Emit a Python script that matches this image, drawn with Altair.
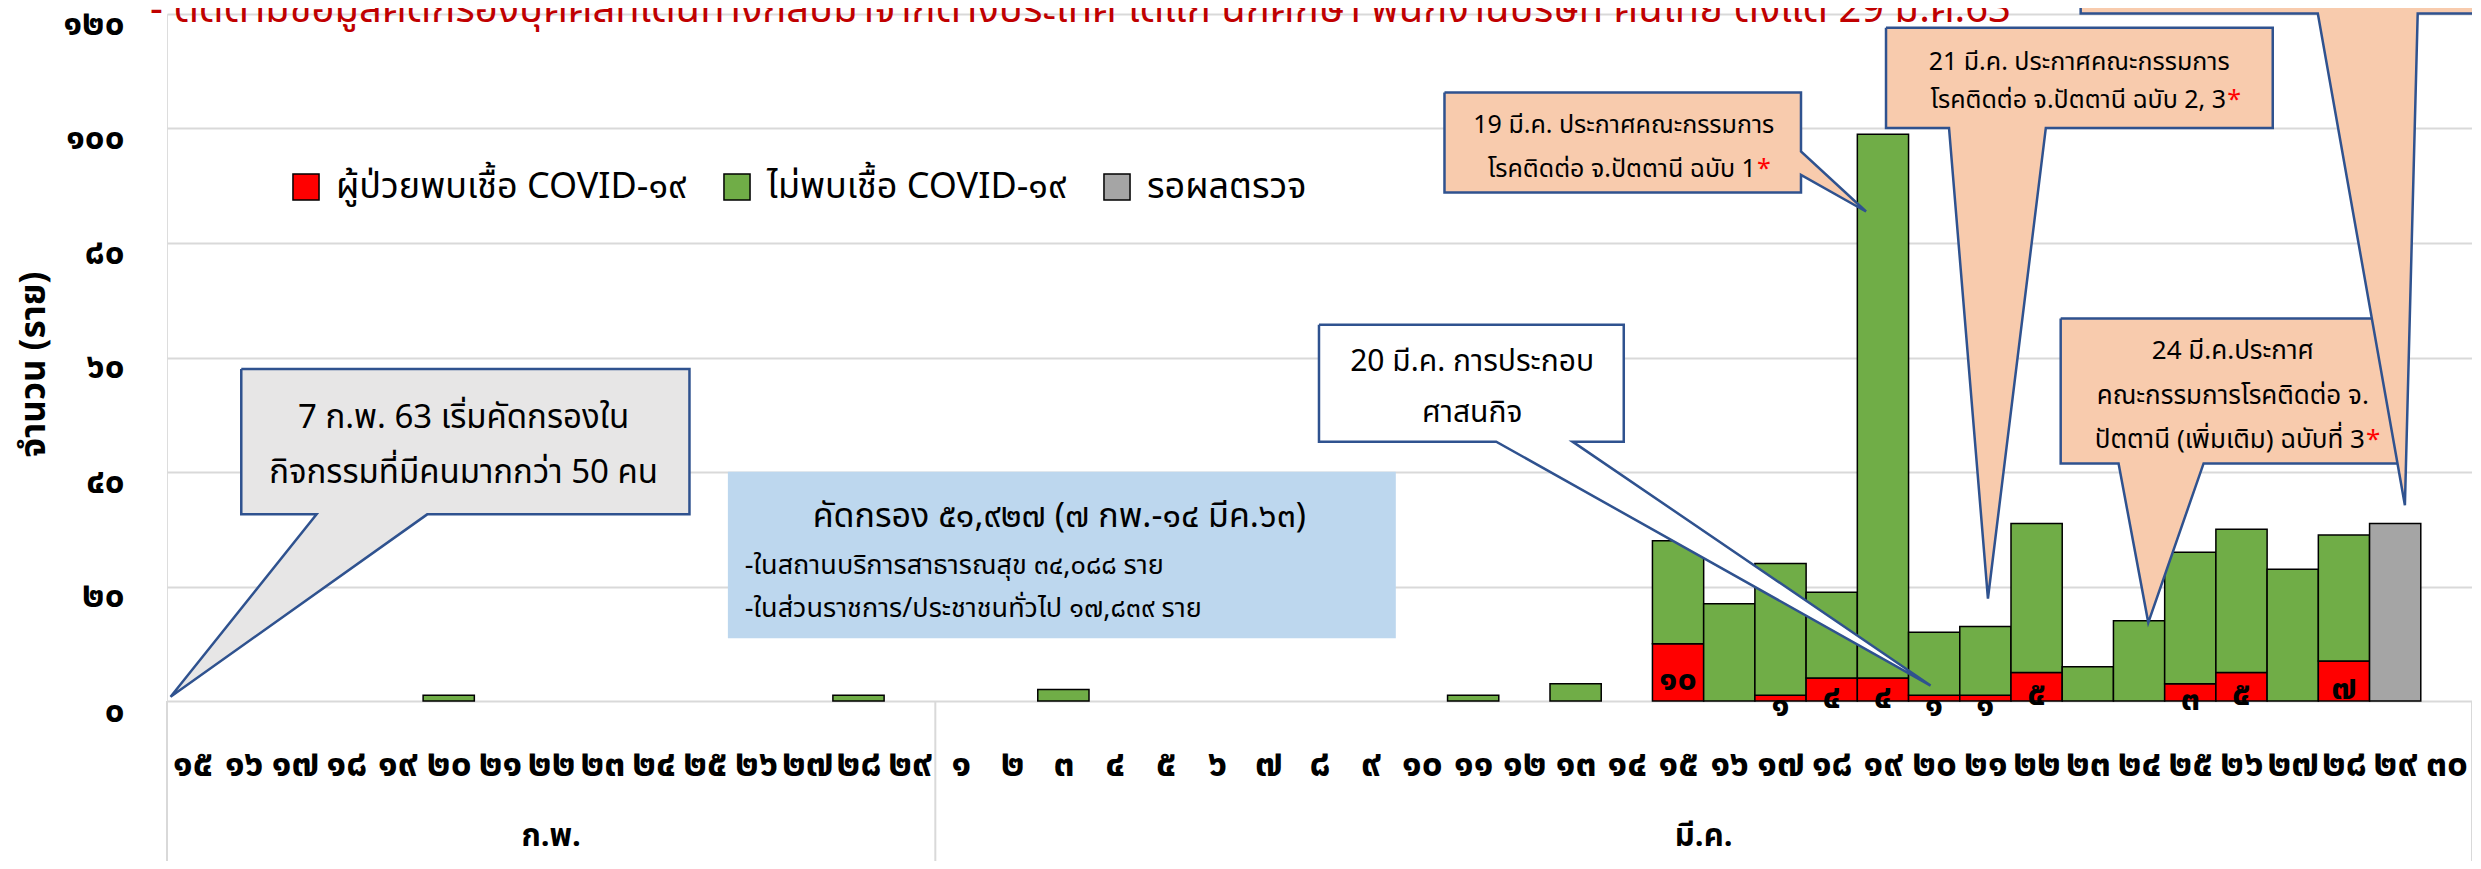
import altair as alt
import pandas as pd

TH = str.maketrans('0123456789', '๐๑๒๓๔๕๖๗๘๙')
FONT = "Tahoma, 'Noto Sans Thai', 'Noto Sans', sans-serif"

# ---------------- data ----------------
feb_days = list(range(15, 30))
mar_days = list(range(1, 31))
month_names = ["ก.พ.", "มี.ค."]

S_POS = "ผู้ป่วยพบเชื้อ COVID-๑๙"
S_NEG = "ไม่พบเชื้อ COVID-๑๙"
S_WAIT = "รอผลตรวจ"
series = [S_POS, S_NEG, S_WAIT]
series_colors = ["#ff0000", "#70ad47", "#a5a5a5"]

feb_pos = [0] * 15
feb_neg = [0, 0, 0, 0, 0, 1, 0, 0, 0, 0, 0, 0, 0, 1, 0]
feb_wait = [0] * 15
mar_pos = [0, 0, 0, 0, 0, 0, 0, 0, 0, 0, 0, 0, 0, 0, 10, 0, 1, 4, 4, 1,
           1, 5, 0, 0, 3, 5, 0, 7, 0, 0]
mar_neg = [0, 0, 2, 0, 0, 0, 0, 0, 0, 0, 1, 0, 3, 0, 18, 17, 23, 15, 95, 11,
           12, 26, 6, 14, 23, 25, 23, 22, 0, 0]
mar_wait = [0] * 28 + [31, 0]

y_ticks = [0, 20, 40, 60, 80, 100, 120]

title_text = ("- ติดตามข้อมูลคัดกรองบุคคลที่เดินทางกลับมาจากต่างประเทศ ได้แก่ "
              "นักศึกษา พนักงานบริษัท คนไทย ตั้งแต่ 29 ม.ค.63")

# ---------------- derived tables ----------------
days = feb_days + mar_days
pos = feb_pos + mar_pos
neg = feb_neg + mar_neg
wait = feb_wait + mar_wait
N = len(days)
day_labels = [str(d).translate(TH) for d in days]
y_labels = [str(v).translate(TH) for v in y_ticks]

bar_rows, lab_rows = [], []
for i in range(N):
    base = 0
    for name, arr in zip(series, [pos, neg, wait]):
        v = arr[i]
        if v > 0:
            bar_rows.append(dict(x0=i, x1=i + 1, y0=base, y1=base + v, series=name))
            base += v
    if pos[i] > 0:
        lab_rows.append(dict(xc=i + 0.5, yc=pos[i] / 2, t=str(pos[i]).translate(TH)))
bars_df = pd.DataFrame(bar_rows)
labs_df = pd.DataFrame(lab_rows)

W, H = 2305, 687
XS = alt.Scale(domain=[0, N], nice=False, zero=False)
YS = alt.Scale(domain=[0, 120], nice=False, zero=False)

x_label_expr = "[" + ",".join("'%s'" % s for s in day_labels) + "][floor(datum.value)]"
y_label_expr = "[" + ",".join("'%s'" % s for s in y_labels) + "][round(datum.value/20)]"

XAX = alt.Axis(
    values=[i + 0.5 for i in range(N)], labelExpr=x_label_expr, title=None,
    grid=False, domain=False, ticks=False, tickSize=0, labelAngle=0,
    labelFont=FONT, labelFontSize=37, labelFontWeight="bold", labelColor="black",
    labelBaseline="middle", labelPadding=63, labelOverlap=False,
    labelFlush=False, labelBound=False)
YAX = alt.Axis(
    values=y_ticks, labelExpr=y_label_expr, grid=True, gridColor="#d9d9d9",
    gridWidth=2, domain=False, ticks=False, tickSize=0,
    labelFont=FONT, labelFontSize=35, labelFontWeight="bold", labelColor="black",
    labelPadding=43, labelOffset=9, labelBaseline="middle",
    title="จำนวน (ราย)", titleFont=FONT, titleFontSize=35, titleFontWeight="bold",
    titleColor="black", titleX=-134, titleY=350, titleAngle=-90,
    titleAlign="center", titleBaseline="middle")


def X(field):
    return alt.X(field, scale=XS, axis=XAX)


def Y(field):
    return alt.Y(field, scale=YS, axis=YAX)


bars = alt.Chart(bars_df).mark_rect(stroke="black", strokeWidth=1.5).encode(
    x=X("x0:Q"), x2="x1:Q",
    y=Y("y0:Q"), y2="y1:Q",
    color=alt.Color("series:N", scale=alt.Scale(domain=series, range=series_colors),
                    legend=alt.Legend(
                        title=None, orient="none", legendX=121, legendY=155,
                        direction="horizontal", symbolType="square", symbolSize=680,
                        symbolStrokeColor="black", symbolStrokeWidth=1.5,
                        labelFont=FONT, labelFontSize=36, labelColor="black",
                        labelLimit=1000, columnPadding=32, labelOffset=12, padding=0)),
)

bar_labels = alt.Chart(labs_df).mark_text(
    font=FONT, fontSize=34, fontWeight="bold", color="black", baseline="middle", dy=8
).encode(x=X("xc:Q"), y=Y("yc:Q"), text="t:N")


# ---------------- annotations (data units: day-index, count) ----------------
def callout(name, L, R, T, B, tail):
    if tail[0] == "bottom":
        xa, xb, tip = tail[1], tail[2], tail[3]
        pts = [(L, T), (R, T), (R, B), (xb, B), tip, (xa, B), (L, B), (L, T)]
    else:  # tail leaving the right side
        ya, yb, tip = tail[1], tail[2], tail[3]
        pts = [(L, T), (R, T), (R, ya), tip, (R, yb), (R, B), (L, B), (L, T)]
    return [dict(shape=name, k=j, x=p[0], y=p[1]) for j, p in enumerate(pts)]


gray_df = pd.DataFrame(callout("c7feb", 1.45, 10.20, 58.0, 32.6,
                               ("bottom", 2.92, 5.08, (0.07, 0.75))))
white_df = pd.DataFrame(callout("c20mar", 22.49, 28.44, 65.7, 45.3,
                                ("bottom", 25.95, 27.44, (34.43, 2.7))))
orange_df = pd.DataFrame(
    callout("c19mar", 24.94, 31.90, 106.3, 88.8, ("right", 96.0, 91.9, (33.17, 85.5)))
    + callout("c21mar", 33.56, 41.11, 117.6, 100.1, ("bottom", 34.79, 36.68, (35.55, 17.9)))
    + callout("c24mar", 36.97, 43.60, 66.8, 41.5, ("bottom", 38.10, 39.76, (38.68, 13.7)))
)
top_df = pd.DataFrame(callout("ctop", 37.36, 47.0, 140.0, 120.1,
                              ("bottom", 41.99, 43.94, (43.69, 34.2))))


def poly_layer(df, fill):
    return alt.Chart(df).mark_line(fill=fill, stroke="#2f528f", strokeWidth=2.5).encode(
        x=X("x:Q"), y=Y("y:Q"), order="k:Q", detail="shape:N")


blue_df = pd.DataFrame([dict(x=10.95, x2=23.99, y=40.05, y2=10.95)])
blue_box = alt.Chart(blue_df).mark_rect(color="#bdd7ee").encode(
    x=X("x:Q"), x2="x2:Q", y=Y("y:Q"), y2="y2:Q")

center_txt = pd.DataFrame([
    dict(x=5.79, y=49.4, t="7 ก.พ. 63 เริ่มคัดกรองใน", s=33),
    dict(x=5.79, y=39.8, t="กิจกรรมที่มีคนมากกว่า 50 คน", s=33),
    dict(x=17.42, y=32.2, t="คัดกรอง ๕๑,๙๒๗ (๗ กพ.-๑๔ มีค.๖๓)", s=34),
    dict(x=25.48, y=59.3, t="20 มี.ค. การประกอบ", s=30),
    dict(x=25.48, y=50.3, t="ศาสนกิจ", s=30),
    dict(x=28.44, y=100.6, t="19 มี.ค. ประกาศคณะกรรมการ", s=25),
    dict(x=37.33, y=111.7, t="21 มี.ค. ประกาศคณะกรรมการ", s=25),
    dict(x=40.33, y=61.2, t="24 มี.ค.ประกาศ", s=26),
    dict(x=40.33, y=53.2, t="คณะกรรมการโรคติดต่อ จ.", s=26),
])
left_txt = pd.DataFrame([
    dict(x=11.28, y=23.6, t="-ในสถานบริการสาธารณสุข ๓๔,๐๘๘ ราย", s=27),
    dict(x=11.28, y=16.0, t="-ในส่วนราชการ/ประชาชนทั่วไป ๑๗,๘๓๙ ราย", s=27),
])
right_txt = pd.DataFrame([
    dict(x=31.02, y=93.0, t="โรคติดต่อ จ.ปัตตานี ฉบับ 1", s=25),
    dict(x=40.20, y=105.0, t="โรคติดต่อ จ.ปัตตานี ฉบับ 2, 3", s=25),
    dict(x=42.91, y=45.6, t="ปัตตานี (เพิ่มเติม) ฉบับที่ 3", s=26),
])
star_txt = pd.DataFrame([
    dict(x=31.04, y=93.0, t="*", s=25),
    dict(x=40.22, y=105.0, t="*", s=25),
    dict(x=42.93, y=45.6, t="*", s=26),
])
title_df = pd.DataFrame([dict(x=-0.33, y=118.6, t=title_text, s=40)])
month_df = pd.DataFrame([dict(x=7.5, t=month_names[0]), dict(x=30.0, t=month_names[1])])
sep_df = pd.DataFrame([dict(x=0), dict(x=15), dict(x=N)])


def text_layer(df, align, color="black", baseline="middle", weight="normal"):
    return alt.Chart(df).mark_text(font=FONT, align=align, baseline=baseline,
                                   color=color, fontWeight=weight).encode(
        x=X("x:Q"), y=Y("y:Q"), text="t:N",
        size=alt.Size("s:Q", scale=None, legend=None))


seps = alt.Chart(sep_df).mark_rule(color="#d9d9d9", strokeWidth=2).encode(
    x=X("x:Q"), y=alt.value(H), y2=alt.value(H + 200))
months = alt.Chart(month_df).mark_text(
    font=FONT, fontSize=31, fontWeight="bold", color="black", baseline="alphabetic"
).encode(x=X("x:Q"), y=alt.value(H + 145), text="t:N")

chart = alt.layer(
    blue_box,
    poly_layer(gray_df, "#e7e6e6"),
    bars,
    bar_labels,
    seps,
    months,
    poly_layer(white_df, "#ffffff"),
    poly_layer(orange_df, "#f8cbad"),
    poly_layer(top_df, "#f8cbad"),
    text_layer(center_txt, "center"),
    text_layer(left_txt, "left"),
    text_layer(right_txt, "right"),
    text_layer(star_txt, "left", color="#ff0000"),
    text_layer(title_df, "left", color="#c00000", baseline="alphabetic"),
).properties(
    width=W, height=H,
    padding={"left": 159, "top": 6, "right": 0, "bottom": 160},
    autosize=alt.AutoSizeParams(type="none"),
).configure_view(stroke=None).configure(background="white")

chart.save("out.html", embed_options={"renderer": "svg", "actions": False})
